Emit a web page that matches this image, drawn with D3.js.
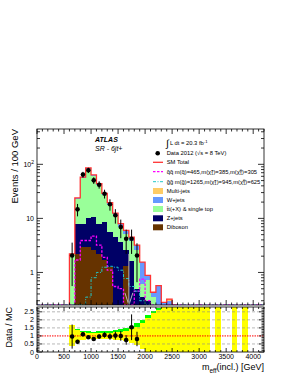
<!DOCTYPE html>
<html>
<head>
<meta charset="utf-8">
<script src="https://cdn.jsdelivr.net/npm/d3@7"></script>
<style>
body { margin: 0; background: #fff; }
text { font-family: 'Liberation Sans', Arial, sans-serif; }
</style>
</head>
<body>
<div id="chart"></div>
<script>
// histogram bins (lower edge, GeV), 100 GeV wide
var binLow   = [600, 700, 800, 900, 1000, 1100, 1200, 1300, 1400, 1500, 1600, 1700, 1800, 1900, 2000, 2100, 2200, 2300, 2400, 2500];
var diboson  = [0.15, 2.2, 2.9, 2.9, 2.6, 2.2, 1.7, 1.25, 0.1, 0.1, 1.3, 0.25, 0.1, 0.05, 0.05, 0, 0, 0, 0, 0];
var zjets    = [0.05, 5.8, 4.9, 7.1, 7.9, 5.6, 6.8, 4.35, 4.5, 3.5, 1.3, 1.35, 0.4, 0.3, 0.25, 0.1, 0.1, 0, 0, 0];
var ttbar    = [1.95, 15, 47.2, 71, 49.5, 33.2, 18.5, 12.4, 6.7, 3.4, 2.6, 2.2, 2.1, 0.27, 0.43, 0.25, 0.12, 0.25, 0.25, 0.1];
var wjets    = [0.05, 1.0, 3, 5, 4, 3, 2, 1.5, 1.2, 1.0, 0.8, 0.7, 0.6, 0.93, 0.15, 0.08, 0.35, 0.03, 0.05, 0.02];
var multijet = [0, 0, 0, 0, 0, 0, 0, 0, 0, 0, 0, 0, 0, 0, 0, 0, 0, 0, 0.02, 0];
var sigSquark = [0.05, 1.7, 3.9, 3.9, 4.7, 3.2, 1.9, 1.1, 0.55, 0.5, 0.22, 0.2, 0.45, 0.75, 0.3, 0.1, 0, 0, 0, 0];
var sigGluino = [0, 0, 0.2, 0.35, 0.8, 1.0, 1.25, 1.3, 1.25, 1.1, 0.77, 0.55, 0.45, 0.3, 0.15, 0.1, 0.05, 0, 0, 0];

// data points
var dataX   = [650, 750, 850, 950, 1050, 1150, 1250, 1350, 1450, 1550, 1650, 1750, 1850];
var dataY   = [2.06, 14.7, 64.5, 77.7, 50.5, 42, 28.6, 18.2, 11.4, 6.9, 4.2, 4.2, 2.06];
var dataErr = [1.5, 3.8, 8, 8.8, 7.1, 6.5, 5.3, 4.3, 3.4, 2.6, 2.0, 2.0, 1.4];

// ratio panel
var ratioVal = [0.96, 0.64, 1.1, 0.92, 0.81, 0.96, 1.06, 0.96, 1.02, 1.0, 0.75, 1.54, 0.81];
var ratioErr = [0.75, 0.12, 0.13, 0.11, 0.12, 0.14, 0.17, 0.2, 0.25, 0.3, 0.3, 0.8, 0.45];
var bandLow  = [600, 700, 800, 900, 1000, 1100, 1200, 1300, 1400, 1500, 1600, 1700, 1800, 1900, 2000, 2100, 2200, 2300, 2400, 2500, 2600, 2700, 2800, 2900, 3000, 3100, 3200, 3300, 3400, 3500, 3600, 3700, 3800, 3900, 4000, 4100];
var yellowLo = [0.35, 0.62, 0.74, 0.8, 0.83, 0.84, 0.82, 0.8, 0.77, 0.74, 0.68, 0.58, 0.42, 0.2, 0, 0, 0, 0, 0, 0, 0, 0, 0, 0, 0, 0, null, 0, null, null, 0, null, 0, null, null, null];
var yellowHi = [1.68, 1.38, 1.26, 1.2, 1.17, 1.16, 1.18, 1.2, 1.23, 1.27, 1.33, 1.43, 1.58, 1.8, 2.1, 2.4, 2.6, 3, 3, 3, 3, 3, 3, 3, 3, 3, null, 3, null, null, 3, null, 3, null, null, null];
var greenHi  = [null, 1.42, 1.32, 1.28, 1.27, 1.28, 1.3, 1.33, 1.38, 1.44, 1.52, 1.64, 1.8, 2.0, 2.3, 2.55, 2.75, null, null, null, null, null, null, null, null, null, null, null, null, null, null, null, null, null, null, null];

var yMin = 0.25;
var svg = d3.select('#chart').append('svg').attr('width', 289).attr('height', 374);

var x = d3.scaleLinear().domain([0, 4200]).range([37, 264]);
var y = d3.scaleLog().domain([yMin, 450]).range([305, 129]).clamp(true);
var yr = d3.scaleLinear().domain([0, 2.8]).range([352, 307]).clamp(true);

var defs = svg.append('defs');
defs.append('clipPath').attr('id', 'clipMain').append('rect')
    .attr('x', 37).attr('y', 129).attr('width', 227).attr('height', 176);
defs.append('clipPath').attr('id', 'clipRatio').append('rect')
    .attr('x', 37).attr('y', 307).attr('width', 227).attr('height', 45);

var main = svg.append('g').attr('clip-path', 'url(#clipMain)');

// stacked backgrounds
var layers = [
    {vals: diboson,  color: '#663300'},
    {vals: zjets,    color: '#000066'},
    {vals: ttbar,    color: '#99ff99'},
    {vals: wjets,    color: '#6699ff'},
    {vals: multijet, color: '#ffcc66'}
];
var cum = binLow.map(() => 0);
layers.forEach(function(layer) {
    var rows = binLow.map((b, i) => ({b: b, lo: cum[i], hi: cum[i] + layer.vals[i]}));
    main.selectAll(null)
        .data(rows.filter(r => r.hi > yMin && r.hi > r.lo))
        .enter()
        .append('rect')
        .attr('x', d => x(d.b))
        .attr('width', d => x(d.b + 100) - x(d.b))
        .attr('y', d => y(d.hi))
        .attr('height', d => y(Math.max(d.lo, yMin)) - y(d.hi))
        .attr('fill', layer.color)
        .attr('shape-rendering', 'crispEdges');
    cum = rows.map(r => r.hi);
});

var step = d3.line().x(d => x(d[0])).y(d => y(Math.max(d[1], yMin))).curve(d3.curveStepAfter);

// SM total
var totalPts = [[600, 0]].concat(binLow.map((b, i) => [b, cum[i]]));
totalPts.push([2600, cum[cum.length - 1]], [2600, 0]);
main.append('path').datum(totalPts)
    .attr('d', step).attr('fill', 'none').attr('stroke', '#ff3333').attr('stroke-width', 1.3);

// signals
function sigPts(vals) {
    var p = [[0, 0]].concat(binLow.map((b, i) => [b, vals[i]]));
    p.push([2600, 0], [4200, 0]);
    return p;
}
main.append('path').datum(sigPts(sigSquark))
    .attr('d', step).attr('fill', 'none').attr('stroke', '#ff00ff')
    .attr('stroke-width', 1.3).attr('stroke-dasharray', '2.5,1.5');
main.append('path').datum(sigPts(sigGluino))
    .attr('d', step).attr('fill', 'none').attr('stroke', '#22c8c8')
    .attr('stroke-width', 1).attr('stroke-dasharray', '3,1.5,1,1.5');

// cut arrow
var ax = x(1700);
main.append('path')
    .attr('d', `M${ax},${y(2.2)}V305M${ax - 4},${y(0.42)}L${ax},305L${ax + 4},${y(0.42)}`)
    .attr('fill', 'none').attr('stroke', '#b8b8b8').attr('stroke-width', 1);

// data
var dg = svg.append('g');
dataX.forEach(function(v, i) {
    dg.append('line')
      .attr('x1', x(v)).attr('x2', x(v))
      .attr('y1', y(dataY[i] + dataErr[i]))
      .attr('y2', y(Math.max(dataY[i] - dataErr[i], yMin)))
      .attr('stroke', '#000').attr('stroke-width', 1);
    dg.append('circle').attr('cx', x(v)).attr('cy', y(dataY[i])).attr('r', 2.3).attr('fill', '#000');
});

// ratio panel
var rg = svg.append('g').attr('clip-path', 'url(#clipRatio)');
bandLow.forEach(function(b, i) {
    if (greenHi[i] !== null) {
        rg.append('rect').attr('x', x(b)).attr('width', x(b + 100) - x(b))
          .attr('y', yr(greenHi[i])).attr('height', yr(yellowLo[i]) - yr(greenHi[i]))
          .attr('fill', '#00ff00').attr('shape-rendering', 'crispEdges');
    }
});
bandLow.forEach(function(b, i) {
    if (yellowHi[i] !== null) {
        rg.append('rect').attr('x', x(b)).attr('width', x(b + 100) - x(b))
          .attr('y', yr(yellowHi[i])).attr('height', yr(yellowLo[i]) - yr(yellowHi[i]))
          .attr('fill', '#ffff00').attr('shape-rendering', 'crispEdges');
    }
});
[0.5, 1.5, 2, 2.5].forEach(function(v) {
    rg.append('line').attr('x1', 37).attr('x2', 264).attr('y1', yr(v)).attr('y2', yr(v))
      .attr('stroke', '#888').attr('stroke-width', 0.6).attr('stroke-dasharray', '3,2');
});
rg.append('line').attr('x1', 37).attr('x2', 264).attr('y1', yr(1)).attr('y2', yr(1))
  .attr('stroke', '#ff0000').attr('stroke-width', 1).attr('stroke-dasharray', '1.5,1');
dataX.forEach(function(v, i) {
    rg.append('line')
      .attr('x1', x(v)).attr('x2', x(v))
      .attr('y1', yr(ratioVal[i] + ratioErr[i])).attr('y2', yr(ratioVal[i] - ratioErr[i]))
      .attr('stroke', '#000').attr('stroke-width', 1);
    rg.append('circle').attr('cx', x(v)).attr('cy', yr(ratioVal[i])).attr('r', 2.3).attr('fill', '#000');
});

// frames and ticks
var axes = svg.append('g').attr('stroke', '#000').attr('stroke-width', 0.8).attr('fill', 'none');
function frame(top, bottom) {
    axes.append('rect').attr('x', 37).attr('y', top).attr('width', 227).attr('height', bottom - top);
}
frame(129, 305);
frame(307, 352);

function xTicks(top, bottom, maj, min) {
    x.ticks(42).forEach(function(v) {
        var len = v % 500 === 0 ? maj : min;
        axes.append('line').attr('x1', x(v)).attr('x2', x(v)).attr('y1', bottom).attr('y2', bottom - len);
        axes.append('line').attr('x1', x(v)).attr('x2', x(v)).attr('y1', top).attr('y2', top + len);
    });
}
xTicks(129, 305, 5, 2.5);
xTicks(307, 352, 4, 2);

function yTick(yy, len) {
    axes.append('line').attr('x1', 37).attr('x2', 37 + len).attr('y1', yy).attr('y2', yy);
    axes.append('line').attr('x1', 264).attr('x2', 264 - len).attr('y1', yy).attr('y2', yy);
}
y.ticks().forEach(function(v) {
    var major = Math.abs(Math.log10(v) - Math.round(Math.log10(v))) < 1e-6;
    yTick(y(v), major ? 6 : 3);
});
d3.range(0, 28).forEach(function(k) {
    yTick(yr(k / 10), k % 5 === 0 ? 5 : 2.5);
});

// tick labels
var lab = svg.append('g').style('font-size', '7px').attr('fill', '#000');
lab.append('text').attr('x', 34).attr('y', y(1) + 2.5).attr('text-anchor', 'end').text('1');
lab.append('text').attr('x', 34).attr('y', y(10) + 2.5).attr('text-anchor', 'end').text('10');
var t100 = lab.append('text').attr('x', 34).attr('y', y(100) + 2.5).attr('text-anchor', 'end');
t100.append('tspan').text('10');
t100.append('tspan').attr('dy', -3).style('font-size', '5px').text('2');

[0, 0.5, 1, 1.5, 2, 2.5].forEach(function(v) {
    lab.append('text').attr('x', 34).attr('y', yr(v) + 2.5).attr('text-anchor', 'end').text(v);
});
[0, 500, 1000, 1500, 2000, 2500, 3000, 3500, 4000].forEach(function(v) {
    lab.append('text').attr('x', x(v)).attr('y', 359).attr('text-anchor', 'middle').text(v);
});

// axis titles
svg.append('text').attr('transform', 'translate(17.5,129) rotate(-90)')
   .attr('text-anchor', 'end').style('font-size', '9.5px').text('Events / 100 GeV');
svg.append('text').attr('transform', 'translate(11.5,307) rotate(-90)')
   .attr('text-anchor', 'end').style('font-size', '9px').text('Data / MC');
var xt = svg.append('text').attr('x', 264).attr('y', 370).attr('text-anchor', 'end').style('font-size', '9px');
xt.append('tspan').text('m');
xt.append('tspan').attr('dy', 2.5).style('font-size', '6.5px').text('eff');
xt.append('tspan').attr('dy', -2.5).text('(incl.) [GeV]');

// labels
svg.append('text').attr('x', 95).attr('y', 142).style('font-size', '7px')
   .style('font-weight', 'bold').style('font-style', 'italic').text('ATLAS');
svg.append('text').attr('x', 95).attr('y', 151).style('font-size', '7px')
   .style('font-style', 'italic').text('SR - 6jt+');

// legend
var lg = svg.append('g').style('font-size', '5.8px');
var tx = 166.7;
lg.append('text').attr('x', 166).attr('y', 147).style('font-size', '10px').text('\u222B');
var lum = lg.append('text').attr('x', 170).attr('y', 145.3);
lum.append('tspan').text('L dt = 20.3 fb');
lum.append('tspan').attr('dy', -2).style('font-size', '4.2px').text('-1');

lg.append('circle').attr('cx', 157.7).attr('cy', 153.3).attr('r', 2.3).attr('fill', '#000');
lg.append('text').attr('x', tx).attr('y', 155.3).text('Data 2012 (\u221As = 8 TeV)');

lg.append('line').attr('x1', 153).attr('x2', 163).attr('y1', 162.3).attr('y2', 162.3)
  .attr('stroke', '#ff3333').attr('stroke-width', 1.3);
lg.append('text').attr('x', tx).attr('y', 164.3).text('SM Total');

function rich(yy, segs) {
    var t = lg.append('text').attr('x', tx).attr('y', yy);
    var cur = 0;
    segs.forEach(function(s) {
        var off = s[1] === 1 ? -2 : s[1] === -1 ? 1.5 : 0;
        var sp = t.append('tspan').attr('dy', off - cur).text(s[0]);
        if (s[1]) sp.style('font-size', '4.2px');
        if (s[2]) sp.attr('dx', s[2]);
        cur = off;
    });
}
lg.append('line').attr('x1', 153).attr('x2', 163).attr('y1', 171.7).attr('y2', 171.7)
  .attr('stroke', '#ff00ff').attr('stroke-width', 1.3).attr('stroke-dasharray', '2.5,1.5');
rich(173.7, [['q\u0303q\u0303 m(q\u0303)=465,m(\u03C7\u0303', 0], ['\u00B1', 1], ['1', -1, -2.4], [')=385,m(\u03C7\u0303', 0], ['0', 1], ['1', -1, -2.4], [')=305', 0]]);
lg.append('line').attr('x1', 153).attr('x2', 163).attr('y1', 181.7).attr('y2', 181.7)
  .attr('stroke', '#22c8c8').attr('stroke-width', 1).attr('stroke-dasharray', '3,1.5,1,1.5');
rich(183.7, [['g\u0303g\u0303 m(g\u0303)=1265,m(\u03C7\u0303', 0], ['\u00B1', 1], ['1', -1, -2.4], [')=945,m(\u03C7\u0303', 0], ['0', 1], ['1', -1, -2.4], [')=625', 0]]);

var boxes = [
    ['Multi-jets', '#ffcc66', 191],
    ['W+jets', '#6699ff', 200],
    ['t\u0304t(+X) & single top', '#99ff99', 209],
    ['Z+jets', '#000066', 218.3],
    ['Diboson', '#663300', 227.3]
];
boxes.forEach(function(b) {
    lg.append('rect').attr('x', 153).attr('y', b[2] - 3).attr('width', 10).attr('height', 6).attr('fill', b[1]);
    lg.append('text').attr('x', tx).attr('y', b[2] + 2).text(b[0]);
});
</script>
</body>
</html>
